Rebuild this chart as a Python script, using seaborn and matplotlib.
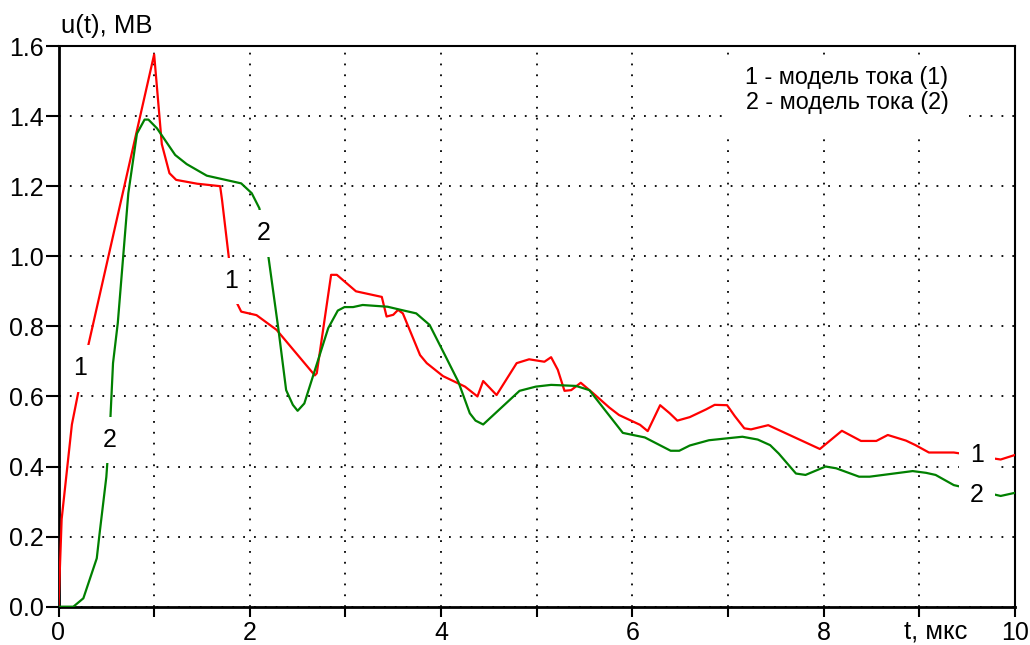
import matplotlib
matplotlib.use("Agg")
import matplotlib.pyplot as plt
from matplotlib.patches import Rectangle
import seaborn as sns
import pandas as pd
import numpy as np

# ---- data ----
t1 = [0, 0.033, 0.14, 0.22, 0.29, 1.0, 1.08, 1.16, 1.23, 1.45, 1.69, 1.71, 1.79, 1.85, 1.91,
      2.07, 2.28, 2.68, 2.70, 2.85, 2.91, 3.11, 3.38, 3.43, 3.50, 3.55, 3.60, 3.78, 3.85, 4.02,
      4.25, 4.38, 4.44, 4.58, 4.79, 4.92, 5.08, 5.15, 5.22, 5.29, 5.36, 5.46, 5.59, 5.76, 5.86,
      6.08, 6.16, 6.29, 6.39, 6.47, 6.60, 6.77, 6.86, 6.99, 7.07, 7.17, 7.24, 7.42, 7.96, 8.19,
      8.39, 8.55, 8.67, 8.86, 8.96, 9.10, 9.36, 9.85, 10.0]
u1 = [0, 0.25, 0.52, 0.63, 0.72, 1.576, 1.32, 1.237, 1.218, 1.207, 1.20, 1.16, 0.975, 0.875, 0.842,
      0.832, 0.79, 0.66, 0.666, 0.947, 0.947, 0.90, 0.884, 0.828, 0.833, 0.847, 0.837, 0.718, 0.695, 0.658,
      0.628, 0.60, 0.644, 0.604, 0.695, 0.706, 0.699, 0.712, 0.676, 0.616, 0.618, 0.639, 0.609, 0.568, 0.547,
      0.519, 0.501, 0.575, 0.552, 0.531, 0.541, 0.563, 0.576, 0.575, 0.544, 0.509, 0.506, 0.518, 0.45, 0.502,
      0.473, 0.473, 0.49, 0.474, 0.461, 0.44, 0.44, 0.42, 0.433]

t2 = [0, 0.155, 0.26, 0.40, 0.43, 0.50, 0.54, 0.57, 0.62, 0.73, 0.82, 0.90, 0.94, 1.03, 1.22, 1.34,
      1.55, 1.91, 2.02, 2.10, 2.19, 2.30, 2.38, 2.45, 2.50, 2.57, 2.82, 2.92, 2.99, 3.08, 3.18, 3.44,
      3.58, 3.74, 3.88, 4.04, 4.18, 4.30, 4.36, 4.44, 4.82, 4.99, 5.15, 5.41, 5.55, 5.90, 6.13, 6.40,
      6.49, 6.60, 6.80, 7.15, 7.31, 7.44, 7.53, 7.71, 7.81, 8.02, 8.13, 8.37, 8.48, 8.93, 9.07, 9.17,
      9.36, 9.85, 10.0]
u2 = [0, 0, 0.024, 0.138, 0.21, 0.37, 0.523, 0.695, 0.81, 1.18, 1.35, 1.39, 1.39, 1.365, 1.289, 1.263,
      1.23, 1.208, 1.18, 1.137, 1.008, 0.79, 0.618, 0.576, 0.559, 0.58, 0.795, 0.845, 0.855, 0.855, 0.861, 0.856,
      0.847, 0.837, 0.804, 0.718, 0.642, 0.552, 0.531, 0.52, 0.616, 0.628, 0.633, 0.63, 0.618, 0.496, 0.483, 0.445,
      0.445, 0.46, 0.475, 0.485, 0.477, 0.461, 0.437, 0.38, 0.376, 0.40, 0.395, 0.371, 0.371, 0.387, 0.382, 0.376,
      0.347, 0.316, 0.325]

series_names = ["1", "2"]
legend_lines = ["1 - модель тока (1)", "2 - модель тока (2)"]
x_ticks = list(range(0, 11))
x_ticklabels = [str(v) if v % 2 == 0 else "" for v in x_ticks]
y_ticks = [0.0, 0.2, 0.4, 0.6, 0.8, 1.0, 1.2, 1.4, 1.6]
y_ticklabels = [f"{v:.1f}" for v in y_ticks]
x_label = "t, мкс"
y_label = "u(t), МВ"

# inline label anchors (t, u)
lab1_pos = [(0.225, 0.68), (1.80, 0.93), (9.60, 0.433)]
lab2_pos = [(0.54, 0.475), (2.15, 1.065), (9.60, 0.319)]

df = pd.concat([
    pd.DataFrame({"t": t1, "u": u1, "s": series_names[0]}),
    pd.DataFrame({"t": t2, "u": u2, "s": series_names[1]}),
])

sns.set_theme(style="white")
plt.rcParams["font.family"] = ["Liberation Sans", "DejaVu Sans"]
plt.rcParams["text.color"] = "black"
FS = 18

W, H = 1030, 645
fig = plt.figure(figsize=(W / 100, H / 100), dpi=100)
ax = fig.add_axes([58.5 / W, 1 - 606.7 / H, (1015 - 58.5) / W, (606.7 - 46) / H])

sns.lineplot(data=df, x="t", y="u", hue="s", palette={"1": "#ff0000", "2": "#008000"},
             estimator=None, sort=False, linewidth=1.6, legend=False, ax=ax, zorder=3)

ax.set_xlim(0, 10)
ax.set_ylim(0, 1.6)
ax.set_xticks(x_ticks)
ax.set_xticklabels(x_ticklabels)
ax.set_yticks(y_ticks)
ax.set_yticklabels(y_ticklabels)
ax.set_xlabel("")
ax.set_ylabel("")
ax.grid(True, color="black", linestyle=(0, (1, 5)), linewidth=1.3)
ax.tick_params(axis="x", direction="out", length=7, width=1.5, pad=3, labelsize=FS,
               colors="black", bottom=True)
ax.tick_params(axis="y", direction="out", length=9.5, width=1.5, pad=1, labelsize=FS,
               colors="black", left=True)
for side in ["left", "bottom"]:
    ax.spines[side].set_color("black")
    ax.spines[side].set_linewidth(2.0)
for side in ["top", "right"]:
    ax.spines[side].set_color("black")
    ax.spines[side].set_linewidth(1.5)

for (x, y) in lab1_pos:
    ax.text(x, y, series_names[0], fontsize=FS, ha="center", va="center", zorder=5,
            bbox=dict(boxstyle="square,pad=0.45", fc="white", ec="none"))
for (x, y) in lab2_pos:
    ax.text(x, y, series_names[1], fontsize=FS, ha="center", va="center", zorder=5,
            bbox=dict(boxstyle="square,pad=0.45", fc="white", ec="none"))

# white legend panel (hides the grid behind the legend text)
ax.add_patch(Rectangle((722 / W, 1 - 135 / H), (965 - 722) / W, (135 - 58) / H,
                       transform=fig.transFigure, fc="white", ec="none", zorder=4))
ax.text(847 / W, 1 - 90 / H, "\n".join(legend_lines), transform=fig.transFigure,
        fontsize=FS - 1.2, ha="center", va="center", linespacing=1.12, zorder=6)

fig.text(61 / W, 1 - 26 / H, y_label, fontsize=FS + 0.5, ha="left", va="center")
fig.text(936 / W, 1 - 631 / H, x_label, fontsize=FS + 0.5, ha="center", va="center")

fig.savefig("out.png", dpi=100)
